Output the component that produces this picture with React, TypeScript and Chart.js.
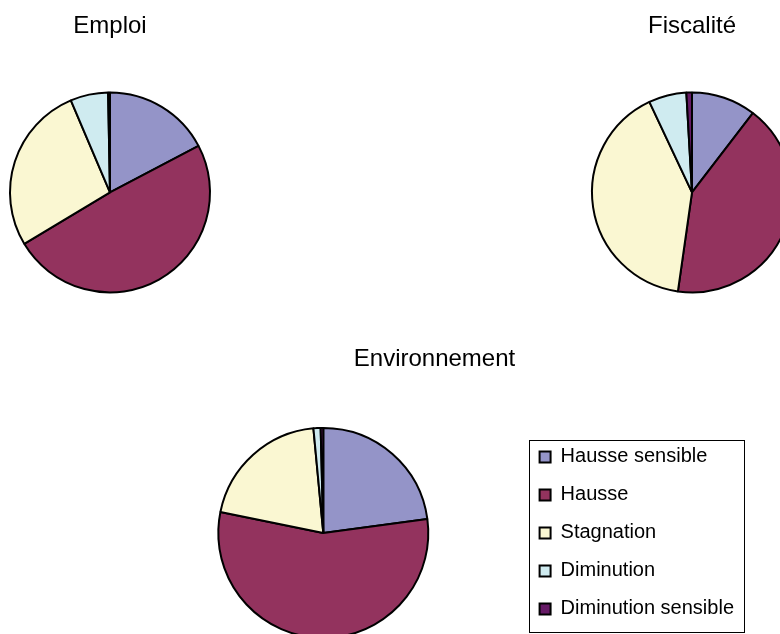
import React, { useEffect, useRef } from "react";
import { Chart, registerables } from "chart.js";

Chart.register(...registerables);

// ---- Data ----
const categories = ["Hausse sensible", "Hausse", "Stagnation", "Diminution", "Diminution sensible"];
const emploiValues = [17.3, 49.1, 27.2, 6.1, 0.3];
const fiscaliteValues = [10.4, 41.8, 40.7, 6.1, 0.9];
const environnementValues = [22.9, 55.3, 20.3, 1.1, 0.4];
const sliceColors = ["#9494C8", "#93335E", "#FAF7D2", "#CFEBF0", "#661A66"];

const FONT = "'Liberation Sans', Arial, Helvetica, sans-serif";

const legendBorder = {
  id: "legendBorder",
  afterDraw(chart: any) {
    const lg = chart.legend;
    if (!lg || !lg.options.display) return;
    const hb = lg.legendHitBoxes;
    if (!hb || !hb.length) return;
    const ctx = chart.ctx;
    const left = Math.min(...hb.map((h: any) => h.left)) - 11;
    const right = Math.max(...hb.map((h: any) => h.left + h.width)) + 10;
    const top = hb[0].top - 7;
    const last = hb[hb.length - 1];
    const bottom = last.top + last.height + 13;
    ctx.save();
    ctx.strokeStyle = "#000";
    ctx.lineWidth = 1;
    ctx.strokeRect(Math.round(left) + 0.5, Math.round(top) + 0.5, Math.round(right - left), Math.round(bottom - top));
    ctx.restore();
  },
};

type PieProps = {
  title: string;
  values: number[];
  left: number;
  top: number;
  width: number;
  height: number;
  radius: number;
  titlePadTop: number;
  showLegend?: boolean;
  padRight?: number;
};

function PieChart(props: PieProps) {
  const ref = useRef<HTMLCanvasElement | null>(null);
  useEffect(() => {
    if (!ref.current) return;
    const chart = new Chart(ref.current, {
      type: "pie",
      data: {
        labels: categories,
        datasets: [
          {
            data: props.values,
            backgroundColor: sliceColors,
            borderColor: "#000",
            borderWidth: 2,
          },
        ],
      },
      options: {
        responsive: false,
        animation: false,
        radius: props.radius,
        events: [],
        layout: { padding: { left: 0, top: 0, bottom: 0, right: props.padRight || 0 } },
        plugins: {
          title: {
            display: true,
            text: props.title,
            color: "#000",
            font: { family: FONT, size: 24, weight: "normal", lineHeight: 1.2 },
            padding: { top: props.titlePadTop, bottom: 10 },
          },
          legend: {
            display: !!props.showLegend,
            position: "right",
            align: "center",
            fullSize: false,
            labels: {
              boxWidth: 11,
              boxHeight: 11,
              padding: 18,
              color: "#000",
              font: { family: FONT, size: 20 },
            },
          },
          tooltip: { enabled: false },
        },
      } as any,
      plugins: [legendBorder],
    });
    return () => chart.destroy();
  }, []);
  return (
    <canvas
      ref={ref}
      width={props.width}
      height={props.height}
      style={{
        position: "absolute",
        left: props.left,
        top: props.top,
        width: props.width,
        height: props.height,
        display: "block",
      }}
    />
  );
}

export default function App() {
  return (
    <div
      style={{
        position: "fixed",
        left: 0,
        top: 0,
        width: 780,
        height: 634,
        overflow: "hidden",
        background: "#fff",
      }}
    >
      <PieChart title="Emploi" values={emploiValues} left={0} top={0} width={220} height={334} radius={100} titlePadTop={12} />
      <PieChart title="Fiscalité" values={fiscaliteValues} left={582} top={0} width={220} height={334} radius={100} titlePadTop={12} />
      <PieChart
        title="Environnement"
        values={environnementValues}
        left={125}
        top={330}
        width={631}
        height={352}
        radius={105}
        titlePadTop={15}
        showLegend
        padRight={12}
      />
    </div>
  );
}
